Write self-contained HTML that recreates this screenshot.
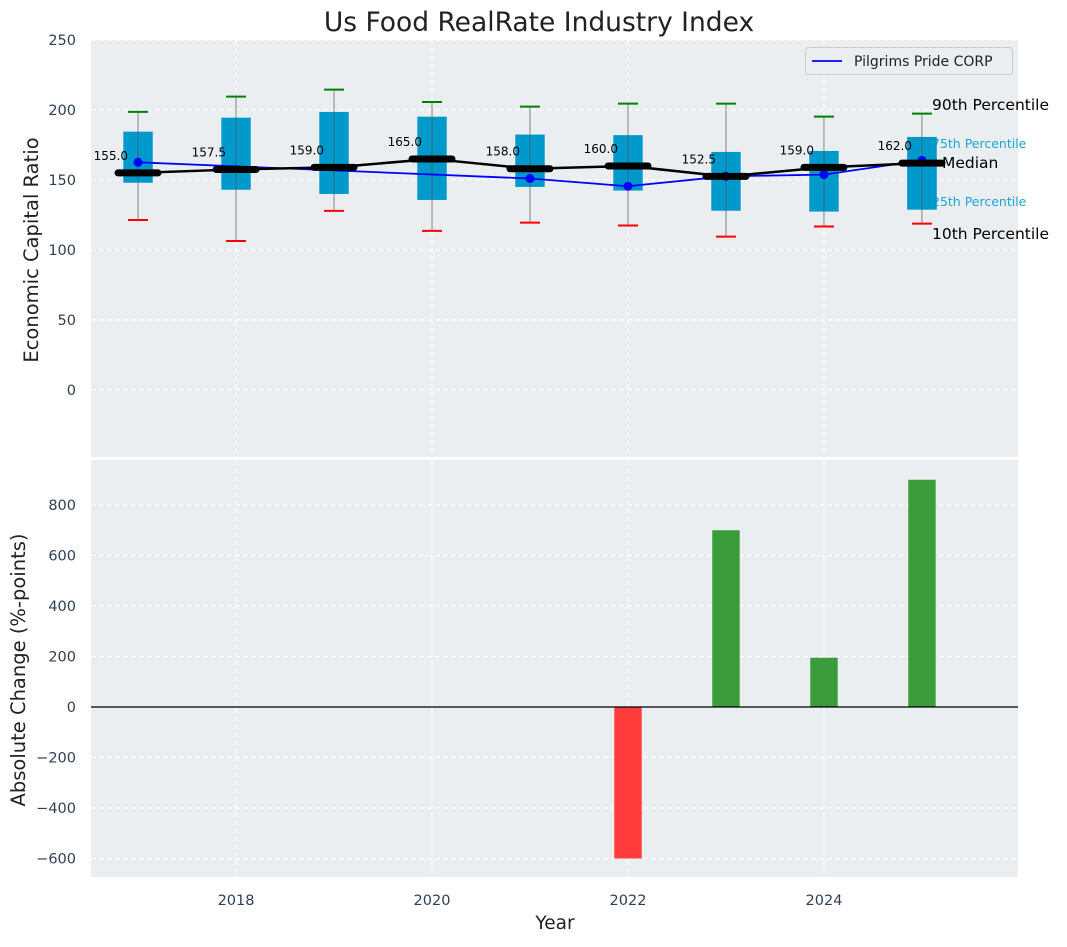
<!DOCTYPE html>
<html><head><meta charset="utf-8">
<style>
body{margin:0;background:#fff;font-family:"Liberation Sans","DejaVu Sans",sans-serif;}
svg text{font-family:"DejaVu Sans","Liberation Sans",sans-serif;}
</style></head>
<body>
<svg id="c" width="1067" height="942" xmlns="http://www.w3.org/2000/svg"></svg>
<script>
const years=[2017,2018,2019,2020,2021,2022,2023,2024,2025];
const p90=[198.6,209.5,214.5,205.7,202.4,204.5,204.5,195.2,197.4];
const q3=[184.5,194.5,198.6,195.2,182.4,182,170,170.7,180.7];
const medians=[155.0,157.5,159.0,165.0,158.0,160.0,152.5,159.0,162.0];
const q1=[148,143,140,135.7,145,142.4,128,127.4,128.8];
const p10=[121.4,106.4,127.9,113.6,119.5,117.4,109.5,116.7,118.8];
const companyYears=[2017,2021,2022,2023,2024,2025];
const companyVals=[162.6,151,145.5,152.6,153.8,164];
const changeYears=[2022,2023,2024,2025];
const changeVals=[-600,700,195,900];
const topTicks=[0,50,100,150,200,250];
const botTicks=[-600,-400,-200,0,200,400,600,800];
const xTicks=[2018,2020,2022,2024];

const svg=document.getElementById('c');
const NS='http://www.w3.org/2000/svg';
function mk(tag,attrs,parent){const e=document.createElementNS(NS,tag);for(const k in attrs)e.setAttribute(k,attrs[k]);(parent||svg).appendChild(e);return e;}
const L=91,R=1018,T1=40,B1=457,T2=460,B2=877;
const x=v=>L+(v-2016.52)/(2025.98-2016.52)*(R-L);
const y1=v=>T1+(250-v)/(250-(-48))*(B1-T1);
const y2=v=>707-v*0.2525;

let e;
e=mk('rect',{x:L,y:T1,width:R-L,height:B1-T1,fill:'#eaeef0'});

e=mk('rect',{x:L,y:T2,width:R-L,height:B2-T2,fill:'#eaeef0'});


const grid=mk('g',{stroke:'#fff','stroke-dasharray':'5,3','stroke-width':1});

xTicks.forEach(t=>{mk('line',{x1:x(t),x2:x(t),y1:T1,y2:B1},grid);mk('line',{x1:x(t),x2:x(t),y1:T2,y2:B2},grid);});
topTicks.forEach(t=>mk('line',{x1:L,x2:R,y1:y1(t),y2:y1(t)},grid));
botTicks.forEach(t=>mk('line',{x1:L,x2:R,y1:y2(t),y2:y2(t)},grid));

topTicks.forEach(t=>{e=mk('text',{x:76,y:y1(t)+5,'text-anchor':'end','font-size':14.5,fill:'#2f3f55'});e.textContent=t;
});
botTicks.forEach(t=>{e=mk('text',{x:76,y:y2(t)+5,'text-anchor':'end','font-size':14.5,fill:'#2f3f55'});e.textContent=(t<0?'\u2212'+(-t):t);
});
xTicks.forEach(t=>{e=mk('text',{x:x(t),y:905,'text-anchor':'middle','font-size':14.5,fill:'#2f3f55'});e.textContent=t;
});

const bw=0.3*(x(1)-x(0));
years.forEach((yr,i)=>{
  const cx=x(yr);
  e=mk('rect',{x:cx-bw/2,y:y1(q3[i]),width:bw,height:y1(q1[i])-y1(q3[i]),fill:'#0099cc'});
  
});
const ann=[['90th Percentile',932,110,15.5,'#000'],['75th Percentile',932,148,12.5,'#1aa6d6'],['Median',942,168,15.5,'#000'],['25th Percentile',932,206,12.5,'#1aa6d6'],['10th Percentile',932,239,15.5,'#000']];
ann.forEach(a=>{e=mk('text',{x:a[1],y:a[2],'font-size':a[3],fill:a[4]});e.textContent=a[0];
});
{const i=years.length-1,cx=x(years[i]);e=mk('rect',{x:cx-bw/2,y:y1(q3[i]),width:bw,height:y1(q1[i])-y1(q3[i]),fill:'#0099cc'});
}

years.forEach((yr,i)=>{
  const cx=x(yr);
  e=mk('line',{x1:cx,x2:cx,y1:y1(p90[i]),y2:y1(p10[i]),stroke:'#555','stroke-width':1,'stroke-opacity':0.7});
  
  e=mk('line',{x1:cx-10,x2:cx+10,y1:y1(p90[i]),y2:y1(p90[i]),stroke:'#008000','stroke-width':2});
  
  e=mk('line',{x1:cx-10,x2:cx+10,y1:y1(p10[i]),y2:y1(p10[i]),stroke:'#ff0000','stroke-width':2});
  
});
e=mk('polyline',{points:companyYears.map((yr,i)=>x(yr)+','+y1(companyVals[i])).join(' '),fill:'none',stroke:'#0000ff','stroke-width':1.8});

companyYears.forEach((yr,i)=>{e=mk('circle',{cx:x(yr),cy:y1(companyVals[i]),r:4.5,fill:'#0000ff'});
});
e=mk('polyline',{points:years.map((yr,i)=>x(yr)+','+y1(medians[i])).join(' '),fill:'none',stroke:'#000','stroke-width':2.5});

years.forEach((yr,i)=>{
  const cx=x(yr),cy=y1(medians[i]);
  e=mk('line',{x1:cx-20,x2:cx+20,y1:cy,y2:cy,stroke:'#000','stroke-width':7,'stroke-linecap':'round'});
  
  e=mk('text',{x:cx-10,y:cy-13,'text-anchor':'end','font-size':12,fill:'#000'});e.textContent=medians[i].toFixed(1);
  
});
e=mk('rect',{x:L,y:B1,width:R-L,height:T2-B1,fill:'#fff'});


const barW=0.28*(x(1)-x(0));
changeYears.forEach((yr,i)=>{
  const v=changeVals[i];const top=Math.min(y2(v),y2(0));
  e=mk('rect',{x:x(yr)-barW/2,y:top,width:barW,height:Math.abs(y2(v)-y2(0)),fill:v<0?'#ff3b3b':'#3a9c3a'});
  
});
e=mk('line',{x1:L,x2:R,y1:y2(0),y2:y2(0),stroke:'#000','stroke-width':1.2});


const lg=mk('g',{});
mk('rect',{x:805.5,y:47.5,width:207,height:27,rx:3,fill:'#eaeef0',stroke:'#c8ccd0'},lg);
mk('line',{x1:812,x2:842,y1:61,y2:61,stroke:'#0000ff','stroke-width':1.8},lg);
e=mk('text',{x:854,y:66,'font-size':14,fill:'#222'},lg);e.textContent='Pilgrims Pride CORP';


e=mk('text',{x:539,y:31,'text-anchor':'middle','font-size':26.5,fill:'#222'});e.textContent='Us Food RealRate Industry Index';

e=mk('text',{x:0,y:0,'text-anchor':'middle','font-size':19.5,fill:'#222',transform:'translate(38,250) rotate(-90)'});e.textContent='Economic Capital Ratio';

e=mk('text',{x:0,y:0,'text-anchor':'middle','font-size':19.5,fill:'#222',transform:'translate(25,670) rotate(-90)'});e.textContent='Absolute Change (%-points)';

e=mk('text',{x:555,y:929,'text-anchor':'middle','font-size':18.5,fill:'#222'});e.textContent='Year';

</script>
</body></html>
